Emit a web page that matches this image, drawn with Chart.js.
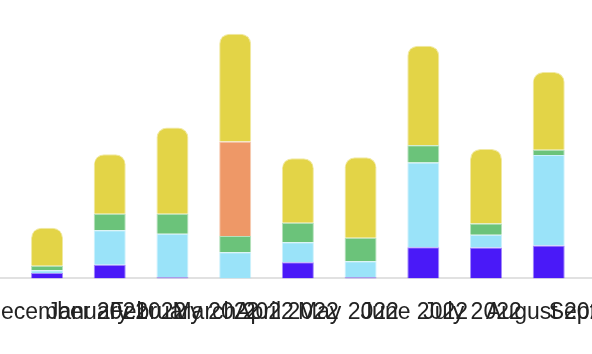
<!DOCTYPE html>
<html>
<head>
<meta charset="utf-8">
<script src="https://cdn.jsdelivr.net/npm/chart.js@4.4.1/dist/chart.umd.min.js"></script>
<style>
  html, body { margin: 0; padding: 0; background: #fff; }
  #wrap { width: 592px; height: 354px; position: relative; }
</style>
</head>
<body>
<div id="wrap"><canvas id="chart"></canvas></div>
<script>
// Tick labels on the x axis (one month before the first bar)
const tickLabels = [
  'December 2021', 'January 2022', 'February 2022', 'March 2022', 'April 2022',
  'May 2022', 'June 2022', 'July 2022', 'August 2022', 'September 2022'
];
// Tick positions, bar months sit at 0..8
const tickValues = [-1, 0, 1, 2, 3, 4, 5, 6, 7, 8];

// Stacked series for January..September 2022, bottom to top
const purpleValues = [1.9, 4.9, 0.4, 0, 5.8, 0.4, 11.2, 11.1, 11.8];
const blueValues   = [1.0, 12.4, 15.6, 9.4, 7.2, 5.8, 30.4, 4.6, 32.5];
const greenValues  = [1.6, 5.9, 7.2, 5.8, 7.0, 8.4, 6.2, 4.0, 1.9];
const orangeValues = [0, 0, 0, 34.0, 0, 0, 0, 0, 0];
const yellowValues = [13.7, 21.4, 31.0, 38.7, 23.2, 28.9, 35.8, 26.8, 27.9];

const yMax = 100;

function toPoints(values) {
  return values.map((v, i) => ({ x: i, y: v }));
}

function makeSet(label, values, color, border) {
  return {
    label: label,
    data: toPoints(values),
    backgroundColor: color,
    borderColor: border,
    borderWidth: 1,
    borderRadius: 10,
    maxBarThickness: 32
  };
}

const ctx = document.getElementById('chart').getContext('2d');
new Chart(ctx, {
  type: 'bar',
  data: {
    datasets: [
      makeSet('Series A', purpleValues, '#4a19f8', 'rgba(74, 25, 248, 0.5)'),
      makeSet('Series B', blueValues, '#9ae3f9', 'rgba(154, 227, 249, 0.5)'),
      makeSet('Series C', greenValues, '#6bc37a', 'rgba(107, 195, 122, 0.5)'),
      makeSet('Series D', orangeValues, '#ee9867', 'rgba(238, 152, 103, 0.5)'),
      makeSet('Series E', yellowValues, '#e3d447', 'rgba(227, 212, 71, 0.5)')
    ]
  },
  options: {
    responsive: true,
    maintainAspectRatio: false,
    animation: false,
    layout: { padding: { top: 0, bottom: 8, left: 0, right: 0 } },
    plugins: {
      legend: { display: false },
      tooltip: { enabled: false }
    },
    scales: {
      x: {
        type: 'linear',
        stacked: true,
        offset: false,
        min: -0.75,
        max: 8.69,
        grid: { display: false, drawTicks: false, offset: false },
        border: { display: true, color: '#e1e1e1', width: 2 },
        afterBuildTicks: (scale) => {
          scale.ticks = tickValues.map(v => ({ value: v }));
        },
        afterFit: (scale) => {
          // let the long labels run past the edges instead of squeezing the bars
          scale.paddingLeft = 0;
          scale.paddingRight = 0;
        },
        ticks: {
          autoSkip: false,
          maxRotation: 0,
          minRotation: 0,
          align: 'start',
          padding: 20,
          color: '#222',
          font: { family: 'Liberation Sans, Arial, sans-serif', size: 23 },
          callback: (value) => tickLabels[tickValues.indexOf(value)]
        }
      },
      y: {
        stacked: true,
        display: false,
        min: 0,
        max: yMax
      }
    }
  }
});
</script>
</body>
</html>
